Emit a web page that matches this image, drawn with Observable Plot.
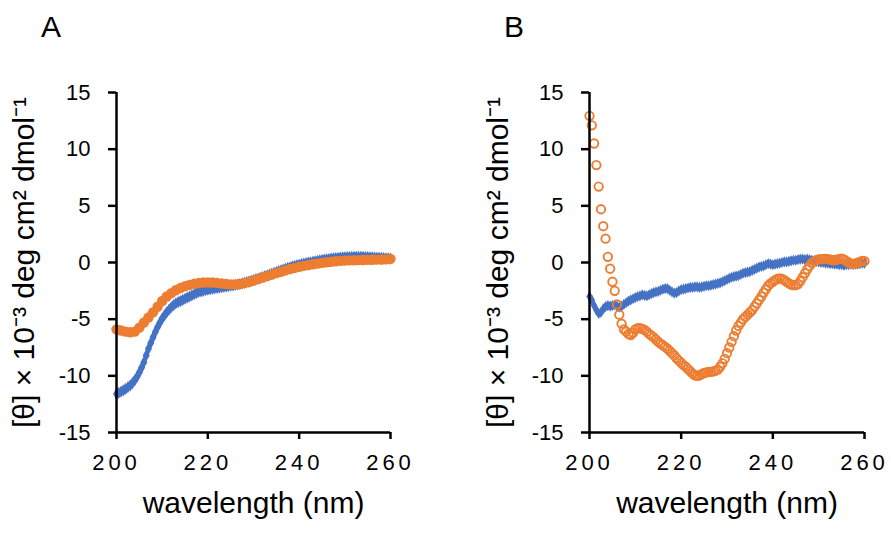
<!DOCTYPE html>
<html>
<head>
<meta charset="utf-8">
<script src="https://cdn.jsdelivr.net/npm/d3@7"></script>
<script src="https://cdn.jsdelivr.net/npm/@observablehq/plot@0.6"></script>
<style>
  html, body { margin: 0; padding: 0; background: #fff; }
  #wrap { position: relative; width: 891px; height: 550px; font-family: "Liberation Sans", Arial, sans-serif; }
  .panel { position: absolute; top: 0; }
  .plabel { position: absolute; top: 10px; font-size: 30px; color: #000; z-index: 5; }
  svg g[aria-label="x-axis tick label"] { font-size: 22px; }
  svg g[aria-label="x-axis tick label"] text { letter-spacing: 4px; }
  svg g[aria-label="y-axis tick label"] { font-size: 22px; }
  svg g[aria-label="x-axis label"], svg g[aria-label="y-axis label"] { font-size: 30px; }
</style>
</head>
<body>
<div id="wrap">
  <div class="panel" id="pa" style="left:0px"></div>
  <div class="panel" id="pb" style="left:445px"></div>
  <div class="plabel" style="left:41px">A</div>
  <div class="plabel" style="left:504px">B</div>
</div>
<script>
// Panel A, blue series: wavelengths (nm), 0.5 nm steps
const wavelengthA_blue = d3.range(200, 260.25, 0.5);
const blueA = [
  -11.6, -11.5, -11.4, -11.28, -11.15, -11.0, -10.85, -10.65, -10.4, -10.08,
  -9.7, -9.27, -8.8, -8.2, -7.6, -7.1, -6.6, -6.13, -5.7, -5.3,
  -4.95, -4.66, -4.4, -4.16, -3.95, -3.77, -3.6, -3.5, -3.4, -3.3,
  -3.2, -3.1, -3.0, -2.9, -2.8, -2.7, -2.6, -2.55, -2.5, -2.45,
  -2.4, -2.36, -2.32, -2.28, -2.25, -2.21, -2.18, -2.15, -2.12, -2.08,
  -2.05, -2.01, -1.98, -1.94, -1.9, -1.85, -1.8, -1.74, -1.68, -1.61,
  -1.55, -1.48, -1.42, -1.35, -1.28, -1.21, -1.15, -1.07, -1.0, -0.92,
  -0.85, -0.77, -0.7, -0.62, -0.55, -0.48, -0.42, -0.36, -0.3, -0.25,
  -0.2, -0.15, -0.1, -0.06, -0.02, 0.02, 0.06, 0.1, 0.14, 0.18,
  0.22, 0.25, 0.28, 0.31, 0.34, 0.37, 0.39, 0.41, 0.43, 0.45,
  0.46, 0.47, 0.48, 0.49, 0.5, 0.5, 0.5, 0.5, 0.49, 0.48,
  0.47, 0.46, 0.45, 0.44, 0.42, 0.41, 0.4, 0.38, 0.37, 0.36,
  0.35
];
// Panel A, orange series: wavelengths (nm), 1 nm steps
const wavelengthA_orange = d3.range(200, 261, 1);
const orangeA = [
  -5.9, -6.0, -6.1, -6.15, -6.1, -5.75, -5.3, -4.85, -4.4, -3.9,
  -3.4, -3.0, -2.7, -2.45, -2.25, -2.1, -1.98, -1.88, -1.81, -1.77,
  -1.76, -1.77, -1.8, -1.85, -1.9, -1.93, -1.93, -1.9, -1.82, -1.72,
  -1.6, -1.47, -1.33, -1.2, -1.07, -0.94, -0.82, -0.7, -0.58, -0.48,
  -0.38, -0.3, -0.22, -0.15, -0.09, -0.03, 0.02, 0.07, 0.11, 0.14,
  0.17, 0.19, 0.2, 0.21, 0.22, 0.23, 0.24, 0.25, 0.26, 0.28,
  0.32
];

// Panel B: wavelengths (nm), 0.5 nm steps
const wavelengthB = d3.range(200, 260.25, 0.5);
const blueB = [
  -3.0, -3.3, -3.8, -4.2, -4.5, -4.4, -4.1, -3.9, -3.8, -3.85,
  -3.8, -3.75, -3.85, -3.95, -3.85, -3.7, -3.55, -3.4, -3.3, -3.2,
  -3.1, -3.0, -2.95, -2.85, -2.9, -2.95, -2.85, -2.75, -2.65, -2.6,
  -2.55, -2.45, -2.35, -2.3, -2.3, -2.45, -2.6, -2.7, -2.65, -2.5,
  -2.4, -2.35, -2.3, -2.25, -2.2, -2.2, -2.15, -2.15, -2.2, -2.15,
  -2.1, -2.05, -2.05, -2.0, -1.95, -1.9, -1.85, -1.8, -1.7, -1.6,
  -1.5, -1.4, -1.3, -1.25, -1.2, -1.15, -1.05, -0.95, -0.9, -0.85,
  -0.8, -0.7, -0.6, -0.5, -0.4, -0.35, -0.3, -0.2, -0.1, -0.15,
  -0.2, -0.15, -0.1, -0.05, 0.0, 0.05, 0.05, 0.1, 0.15, 0.2,
  0.2, 0.25, 0.3, 0.3, 0.25, 0.3, 0.25, 0.2, 0.15, 0.1,
  0.05, 0.0, 0.0, -0.05, -0.05, -0.1, -0.1, -0.15, -0.15, -0.2,
  -0.2, -0.25, -0.2, -0.2, -0.15, -0.2, -0.15, -0.15, -0.1, -0.05,
  -0.05
];
const orangeB = [
  12.94, 12.1, 10.5, 8.6, 6.7, 4.7, 3.2, 2.1, 0.5, -0.55,
  -1.7, -2.5, -3.7, -4.6, -5.4, -5.9, -6.1, -6.3, -6.4, -6.2,
  -5.9, -5.8, -5.8, -5.85, -5.95, -6.1, -6.3, -6.45, -6.6, -6.8,
  -7.0, -7.15, -7.3, -7.45, -7.6, -7.8, -8.0, -8.2, -8.45, -8.65,
  -8.85, -9.05, -9.2, -9.4, -9.6, -9.8, -9.95, -10.0, -9.95, -9.85,
  -9.75, -9.7, -9.65, -9.65, -9.6, -9.55, -9.45, -9.2, -8.9, -8.5,
  -8.0, -7.5, -7.0, -6.5, -6.0, -5.6, -5.3, -5.0, -4.8, -4.6,
  -4.4, -4.2, -3.9, -3.6, -3.3, -3.0, -2.65, -2.35, -2.05, -1.85,
  -1.7, -1.55, -1.45, -1.4, -1.45, -1.55, -1.7, -1.85, -1.95, -2.0,
  -2.0, -1.9, -1.65, -1.3, -0.95, -0.6, -0.3, -0.05, 0.1, 0.2,
  0.28, 0.3, 0.3, 0.32, 0.3, 0.25, 0.2, 0.2, 0.25, 0.3,
  0.33, 0.28, 0.15, 0.0, -0.1, -0.12, -0.1, -0.02, 0.05, 0.15,
  0.12
];

const xTicks = [200, 220, 240, 260];
const yTicks = [-15, -10, -5, 0, 5, 10, 15];
const yTitle = "[θ] × 10⁻³ deg cm² dmol⁻¹";
const xTitle = "wavelength (nm)";
const BLUE = "#4472C4";
const ORANGE = "#ED7D31";

const toRows = (xs, ys) => xs.map((x, i) => ({x, y: ys[i]}));

function panel({width, marginLeft, marginRight, labelOffsetY, blue, orange, blueR, orangeR, orangeOpen}) {
  return Plot.plot({
    width, height: 550,
    marginLeft, marginRight, marginTop: 92, marginBottom: 118,
    style: {fontFamily: '"Liberation Sans", Arial, sans-serif', color: "#000", background: "transparent", overflow: "visible"},
    x: {domain: [200, 260]},
    y: {domain: [-15, 15]},
    marks: [
      Plot.axisY({ticks: yTicks, tickFormat: d => String(d), tickSize: 8, tickPadding: 18,
        strokeWidth: 2.5, label: yTitle, labelAnchor: "center", labelArrow: "none", labelOffset: labelOffsetY}),
      Plot.axisX({ticks: xTicks, tickFormat: d => String(d), tickSize: 7, tickPadding: 15,
        strokeWidth: 2.5, label: xTitle, labelAnchor: "center", labelArrow: "none", labelOffset: 80}),
      Plot.dot(blue, {x: "x", y: "y", symbol: "diamond", r: blueR, fill: BLUE, stroke: "none"}),
      orangeOpen
        ? Plot.dot(orange, {x: "x", y: "y", symbol: "circle", r: orangeR, fill: "none", stroke: ORANGE, strokeWidth: 1.9})
        : Plot.dot(orange, {x: "x", y: "y", symbol: "circle", r: orangeR, fill: ORANGE, stroke: "none"}),
      Plot.ruleX([200], {stroke: "#000", strokeWidth: 2.5}),
      Plot.ruleY([-15], {stroke: "#000", strokeWidth: 2.5})
    ]
  });
}

const a = panel({width: 445, marginLeft: 116, marginRight: 55, labelOffsetY: 104,
  blue: toRows(wavelengthA_blue, blueA), orange: toRows(wavelengthA_orange, orangeA), blueR: 3.7, orangeR: 5.2, orangeOpen: false});
const b = panel({width: 446, marginLeft: 144, marginRight: 27, labelOffsetY: 103,
  blue: toRows(wavelengthB, blueB), orange: toRows(wavelengthB, orangeB), blueR: 3.4, orangeR: 4.2, orangeOpen: true});

document.getElementById("pa").appendChild(a);
document.getElementById("pb").appendChild(b);
</script>
</body>
</html>
